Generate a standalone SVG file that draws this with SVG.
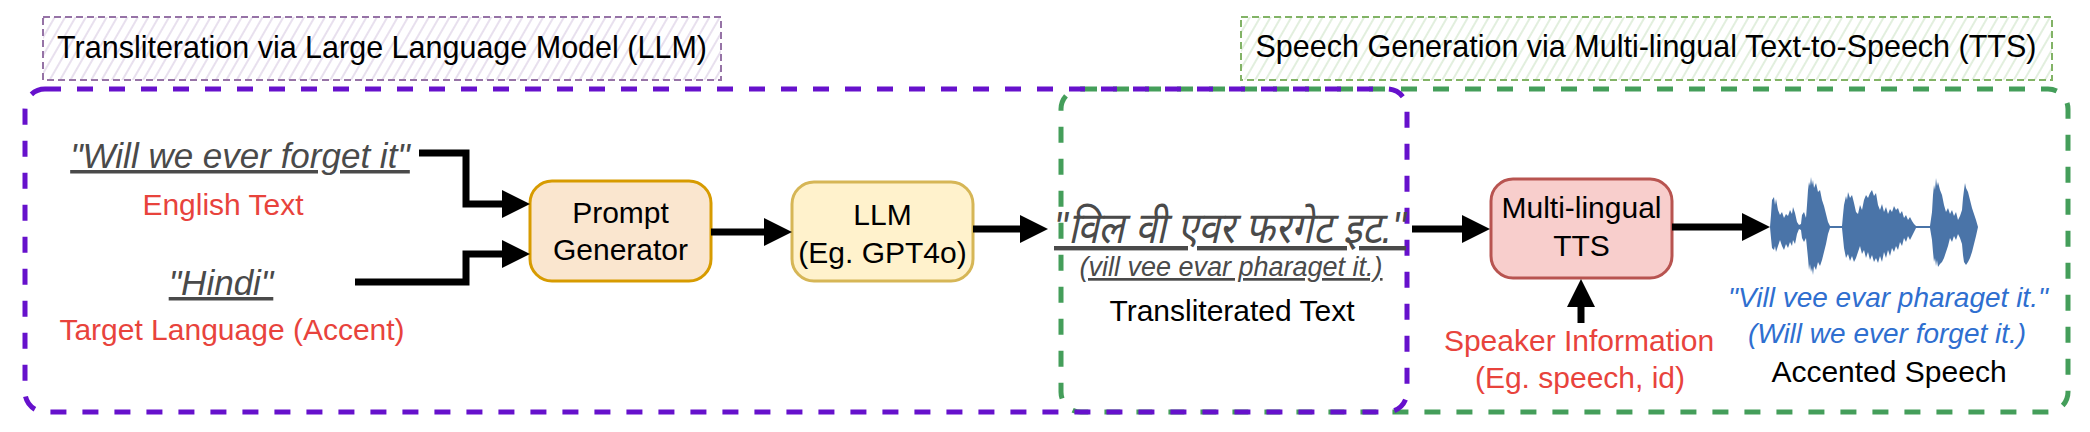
<svg xmlns="http://www.w3.org/2000/svg" width="2090" height="432" viewBox="0 0 2090 432">
<defs>
<pattern id="hatchP" width="9" height="9" patternUnits="userSpaceOnUse" patternTransform="rotate(30)">
<line x1="2" y1="0" x2="2" y2="9" stroke="#d9cbe3" stroke-width="1.2"/>
</pattern>
<pattern id="hatchG" width="9" height="9" patternUnits="userSpaceOnUse" patternTransform="rotate(30)">
<line x1="2" y1="0" x2="2" y2="9" stroke="#cfe5c8" stroke-width="1.2"/>
</pattern>
<marker id="arr" markerUnits="userSpaceOnUse" markerWidth="30" markerHeight="30" refX="8" refY="14" orient="auto">
<path d="M0,0 L28,14 L0,28 Z" fill="#000"/>
</marker>
</defs>
<style>
text{font-family:"Liberation Sans",Arial,Helvetica,sans-serif;}
.title{font-size:30.5px;fill:#000;text-anchor:middle;}
.big{fill:none;stroke-width:5;stroke-dasharray:16 16;}
.box{stroke-width:3;}
.lbl{font-size:30px;fill:#000;text-anchor:middle;}
.red{font-size:30px;fill:#e8433c;text-anchor:middle;}
.quote{font-style:italic;fill:#4a4a4a;text-anchor:middle;text-decoration:underline;text-decoration-thickness:2.5px;}
.blue{font-style:italic;font-size:28px;fill:#2f6fd0;text-anchor:middle;}
.conn{fill:none;stroke:#000;stroke-width:7;marker-end:url(#arr);}
</style>
<rect width="2090" height="432" fill="#fff"/>

<g id="title-llm">
<rect x="43" y="17" width="678" height="63" fill="url(#hatchP)" stroke="#9673a6" stroke-width="2" stroke-dasharray="7 4"/>
<text class="title" x="382" y="58">Transliteration via Large Language Model (LLM)</text>
</g>
<g id="title-tts">
<rect x="1241" y="17" width="811" height="63" fill="url(#hatchG)" stroke="#82b366" stroke-width="2" stroke-dasharray="7 4"/>
<text class="title" x="1646" y="57">Speech Generation via Multi-lingual Text-to-Speech (TTS)</text>
</g>

<g id="container-tts">
<rect class="big" x="1061" y="89" width="1007" height="323" rx="20" stroke="#449e5a"/>
</g>
<g id="container-llm">
<rect class="big" x="25" y="89" width="1382" height="323" rx="20" stroke="#6611cc"/>
</g>

<g id="english-text">
<text class="quote" x="240" y="168" font-size="35">"Will we ever forget it"</text>
<text class="red" x="223" y="215">English Text</text>
</g>
<g id="target-language">
<text class="quote" x="221" y="295" font-size="35">"Hindi"</text>
<text class="red" x="232" y="340" font-size="31">Target Language (Accent)</text>
</g>

<g id="prompt-generator">
<rect class="box" x="530" y="181" width="181" height="100" rx="22" fill="#fae6cf" stroke="#d79b00"/>
<text class="lbl" x="620.5" y="223">Prompt</text>
<text class="lbl" x="620.5" y="260">Generator</text>
</g>
<g id="llm">
<rect class="box" x="792" y="182" width="181" height="99" rx="22" fill="#fff2cc" stroke="#d6b656"/>
<text class="lbl" x="882.5" y="225">LLM</text>
<text class="lbl" x="882.5" y="263" font-size="27">(Eg. GPT4o)</text>
</g>

<g id="transliterated-text">
<text class="quote" x="1230" y="243" font-size="44" textLength="352" lengthAdjust="spacingAndGlyphs" font-family="'Noto Sans Devanagari','Lohit Devanagari','FreeSans','Noto Sans',sans-serif">"विल वी एवर फरगेट इट."</text>
<text class="quote" x="1231" y="276" font-size="27">(vill vee evar pharaget it.)</text>
<text class="lbl" x="1232" y="321" font-size="29.5">Transliterated Text</text>
</g>

<g id="tts">
<rect class="box" x="1491" y="179" width="181" height="99" rx="22" fill="#f8cecc" stroke="#b85450"/>
<text class="lbl" x="1581.5" y="218">Multi-lingual</text>
<text class="lbl" x="1581.5" y="256">TTS</text>
</g>

<g id="speaker-information">
<text class="red" x="1579" y="351">Speaker Information</text>
<text class="red" x="1580" y="388">(Eg. speech, id)</text>
</g>

<g id="accented-speech">
<path fill="#4a74a8" d="M1770,227 L1771,215 L1772,200 L1774,197 L1775,205 L1776,199 L1778,210 L1780,215 L1782,212 L1784,218 L1786,214 L1788,216 L1790,210 L1792,214 L1793,207 L1795,213 L1797,222 L1799,225 L1801,224 L1802,215 L1804,212 L1806,218 L1807,205 L1808,190 L1809,182 L1810,186 L1811,177 L1812,185 L1813,180 L1814,188 L1816,183 L1818,192 L1820,190 L1822,200 L1824,206 L1826,214 L1828,222 L1830,226 L1842,226 L1843,215 L1844,205 L1846,196 L1847,200 L1848,192 L1850,198 L1852,195 L1854,203 L1856,212 L1858,214 L1860,205 L1862,210 L1864,200 L1866,195 L1868,198 L1870,193 L1872,190 L1874,196 L1876,193 L1878,205 L1880,210 L1882,204 L1884,212 L1886,207 L1888,214 L1890,209 L1892,212 L1894,206 L1896,210 L1898,208 L1900,214 L1902,211 L1904,218 L1906,215 L1908,220 L1910,217 L1912,221 L1914,224 L1916,226 L1930,226 L1932,212 L1933,195 L1934,185 L1935,190 L1936,178 L1937,186 L1938,182 L1940,190 L1942,195 L1944,205 L1946,212 L1948,208 L1950,214 L1952,210 L1954,216 L1956,212 L1958,220 L1960,216 L1962,210 L1963,198 L1964,190 L1965,183 L1966,188 L1968,192 L1970,200 L1972,208 L1974,214 L1976,220 L1978,227 L1976,236 L1974,244 L1972,252 L1970,258 L1968,262 L1966,265 L1964,262 L1963,255 L1962,244 L1960,238 L1958,234 L1956,240 L1954,236 L1952,242 L1950,238 L1948,246 L1946,252 L1944,258 L1942,262 L1940,264 L1938,267 L1937,260 L1936,266 L1935,258 L1934,262 L1933,252 L1932,240 L1930,228 L1916,228 L1914,232 L1912,236 L1910,240 L1908,236 L1906,242 L1904,238 L1902,246 L1900,242 L1898,250 L1896,246 L1894,252 L1892,248 L1890,256 L1888,250 L1886,258 L1884,252 L1882,262 L1880,256 L1878,263 L1876,258 L1874,262 L1872,255 L1870,260 L1868,252 L1866,258 L1864,250 L1862,254 L1860,246 L1858,252 L1856,258 L1854,262 L1852,256 L1850,261 L1848,254 L1846,258 L1844,248 L1843,238 L1842,228 L1830,228 L1828,234 L1826,244 L1824,252 L1822,260 L1820,266 L1818,262 L1816,270 L1814,266 L1813,275 L1812,268 L1811,272 L1810,264 L1809,270 L1808,258 L1807,248 L1806,238 L1804,242 L1802,238 L1801,230 L1799,229 L1797,234 L1795,244 L1793,240 L1792,246 L1790,242 L1788,248 L1786,244 L1784,250 L1782,246 L1780,240 L1778,246 L1776,252 L1775,246 L1774,250 L1772,248 L1771,238 Z"/>
<text class="blue" x="1888" y="307">"Vill vee evar pharaget it."</text>
<text class="blue" x="1887" y="343" font-size="27">(Will we ever forget it.)</text>
<text class="lbl" x="1889" y="382">Accented Speech</text>
</g>

<g id="connectors">
<path class="conn" d="M419,153 H466 V204 H510"/>
<path class="conn" d="M355,282 H466 V254 H510"/>
<path class="conn" d="M711,232 H772"/>
<path class="conn" d="M973,229 H1028"/>
<path class="conn" d="M1412,229 H1470"/>
<path class="conn" d="M1672,227 H1750"/>
<path class="conn" d="M1581,323 V299"/>
</g>
</svg>
